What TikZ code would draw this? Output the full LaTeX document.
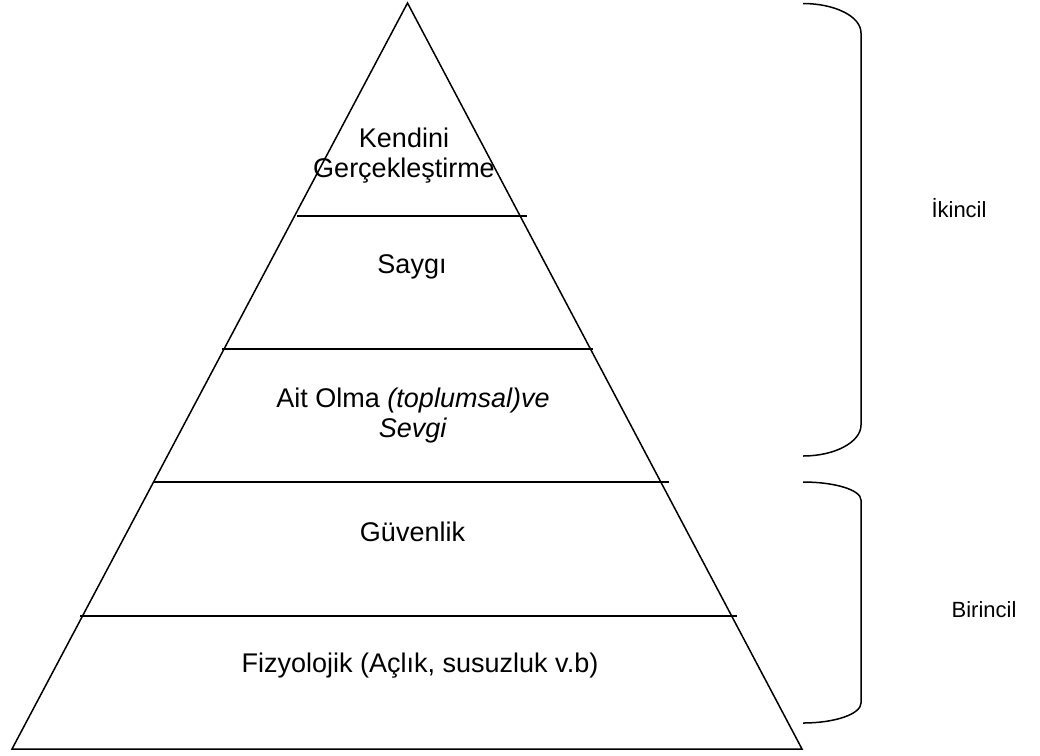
\documentclass[tikz,border=0pt]{standalone}
\usepackage{fontspec}
\setmainfont{Liberation Sans}
\begin{document}
\begin{tikzpicture}[x=1pt,y=-1pt, line width=1.5pt,
  lbl/.style={font=\fontsize{27}{29.5}\selectfont, align=center, inner sep=0pt, anchor=base},
  side/.style={font=\fontsize{22}{26}\selectfont, inner sep=0pt, anchor=base},
  level/.style={line width=1.5pt},
  brace/.style={line width=1.5pt}]
\useasboundingbox (0,0) rectangle (1040,755);
% pyramid
\coordinate (apex) at (407.5,3);
\coordinate (bl) at (12,749);
\coordinate (br) at (802,749);
\draw (apex) -- (bl) -- (br) -- cycle;
% level lines
\coordinate (l1a) at (297,216); \coordinate (l1b) at (527,216);
\coordinate (l2a) at (222,349); \coordinate (l2b) at (593,349);
\coordinate (l3a) at (153,482); \coordinate (l3b) at (669,482);
\coordinate (l4a) at (80,616);  \coordinate (l4b) at (737,616);
\draw[level] (l1a) -- (l1b);
\draw[level] (l2a) -- (l2b);
\draw[level] (l3a) -- (l3b);
\draw[level] (l4a) -- (l4b);
% labels
\node[lbl] (kendini) at (404,177) {Kendini\\Gerçekleştirme};
\node[lbl] (saygi) at (412,273) {Saygı};
\node[lbl] (ait) at (413,437) {Ait Olma \textit{(toplumsal)ve}\\\textit{Sevgi}};
\node[lbl] (guven) at (412.5,541) {Güvenlik};
\node[lbl] (fizyo) at (420,672) {Fizyolojik (Açlık, susuzluk v.b)};
% braces
\draw[brace] (803,3.5) .. controls (834,3.5) and (861,16) .. (861,33)
  -- (861,425) .. controls (861,442) and (835,456) .. (803,456);
\draw[brace] (803,482) .. controls (835,482) and (861,490) .. (861,500)
  -- (861,703) .. controls (861,714) and (835,723) .. (803,723);
\node[side] (ikincil) at (959,217) {İkincil};
\node[side] (birincil) at (984,617) {Birincil};
\end{tikzpicture}
\end{document}
